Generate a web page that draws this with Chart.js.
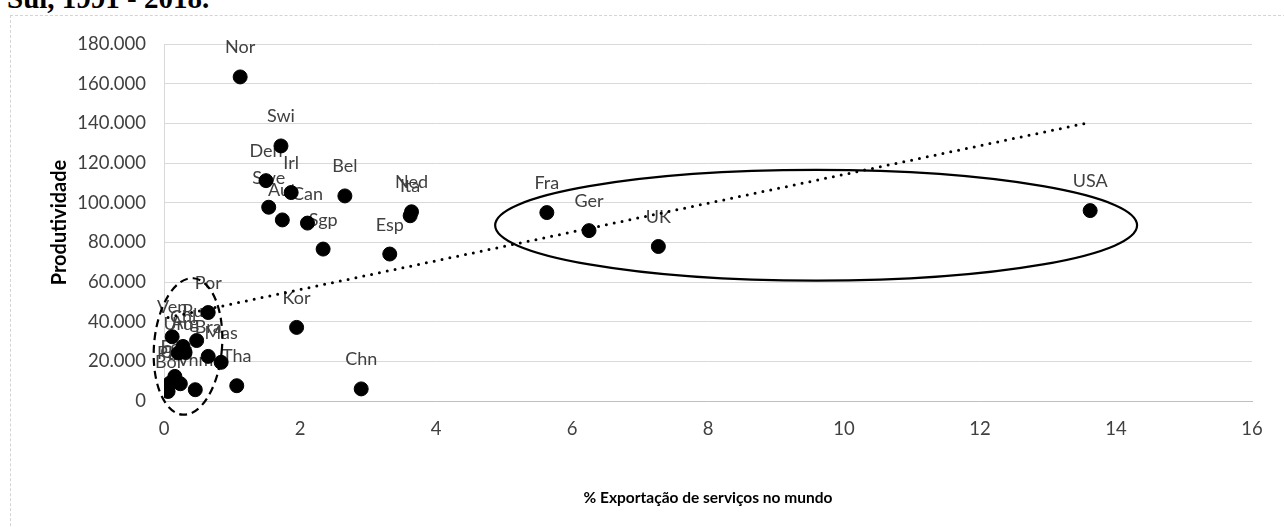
<!DOCTYPE html>
<html>
<head>
<meta charset="utf-8">
<script src="https://cdn.jsdelivr.net/npm/chart.js@4.4.1/dist/chart.umd.min.js"></script>
<style>
html,body{margin:0;padding:0;background:#fff;width:1284px;height:527px;overflow:hidden;}
#frame{position:absolute;left:10px;top:15px;width:1300px;height:540px;border-left:1px dashed #d4d4d4;border-top:1px dashed #d4d4d4;}
#title{position:absolute;left:7px;top:-16px;font:bold 29px 'Liberation Serif',serif;white-space:nowrap;line-height:1;color:#000;}
canvas{position:absolute;left:0;top:0;}
</style>
</head>
<body>
<div id="frame"></div>
<div id="title">Sul, 1991 - 2018.</div>
<canvas id="c" width="1284" height="527"></canvas>
<script>
// ---- data ----
const countries = ['Nor','Swi','Den','Irl','Swe','Aut','Can','Bel','Sgp','Esp','Ned','Ita','Fra','Ger','UK','USA',
  'Kor','Chn','Por','Ven','Rus','Chl','Uru','Arg','Bra','Mas','Ecu','Col','Par','Bol','Ind','Vnm','Tha'];
const exportShare = [1.12,1.72,1.50,1.87,1.54,1.74,2.11,2.66,2.34,3.32,3.64,3.62,5.63,6.25,7.27,13.62,
  1.95,2.90,0.65,0.12,0.48,0.28,0.21,0.31,0.65,0.84,0.16,0.14,0.09,0.06,0.24,0.46,1.07];
const productivity = [163400,128600,111100,105100,97700,91300,89700,103400,76600,74100,95400,93400,95000,85900,77900,96000,
  37100,6100,44600,32400,30500,27500,24200,24500,22500,19500,12400,9900,9100,4800,8700,5700,7700];
// linear trend line end points
const trendX = [0.06, 13.62];
const trendY = [42100, 140500];
// axis ticks
const xTickMin = 0, xTickMax = 16, xTickStep = 2;
const yTickMin = 0, yTickMax = 180000, yTickStep = 20000;
// group outlines (data units)
const groupOutlines = [
  {cx:9.59, cy:88600, rx:4.72, ry:27900, rot:0, dash:[]},
  {cx:0.353, cy:27500, rx:0.5, ry:34500, rot:0.08, dash:[8,5]}
];

const FONT = "Lato, 'Open Sans', sans-serif";

function fmtThousands(v){
  return String(Math.round(v)).replace(/\B(?=(\d{3})+(?!\d))/g,'.');
}

const labelPlugin = {
  id:'pointLabels',
  beforeDatasetsDraw(chart){
    const meta = chart.getDatasetMeta(0);
    const ctx = chart.ctx;
    ctx.save();
    ctx.font = '18px ' + FONT;
    ctx.fillStyle = '#404040';
    ctx.textAlign = 'center';
    ctx.textBaseline = 'alphabetic';
    meta.data.forEach((pt,i)=>{ ctx.fillText(countries[i], pt.x, pt.y - 23.5); });
    ctx.restore();
  }
};

const outlinePlugin = {
  id:'outlines',
  afterDatasetsDraw(chart){
    const xs = chart.scales.x, ys = chart.scales.y, ctx = chart.ctx;
    ctx.save();
    groupOutlines.forEach(o=>{
      const px = xs.getPixelForValue(o.cx), py = ys.getPixelForValue(o.cy);
      const rxp = xs.getPixelForValue(o.cx + o.rx) - px;
      const ryp = py - ys.getPixelForValue(o.cy + o.ry);
      ctx.beginPath();
      ctx.setLineDash(o.dash);
      ctx.lineWidth = 2.2;
      ctx.strokeStyle = '#000';
      ctx.ellipse(px, py, rxp, ryp, o.rot, 0, Math.PI*2);
      ctx.stroke();
    });
    ctx.restore();
  }
};

function build(){
  new Chart(document.getElementById('c'), {
    type:'scatter',
    data:{
      datasets:[
        {
          label:'Países',
          data: exportShare.map((x,i)=>({x:x, y:productivity[i]})),
          pointRadius:7, pointHoverRadius:7,
          backgroundColor:'#000', borderColor:'#000', borderWidth:1
        },
        {
          label:'Tendência',
          type:'line',
          data: trendX.map((x,i)=>({x:x, y:trendY[i]})),
          showLine:true, pointRadius:0, fill:false,
          borderColor:'#000', borderWidth:3,
          borderDash:[0,8], borderCapStyle:'round'
        }
      ]
    },
    options:{
      responsive:false, animation:false, devicePixelRatio:1,
      layout:{padding:{left:0,right:32,top:44,bottom:0}},
      plugins:{legend:{display:false}, tooltip:{enabled:false}},
      scales:{
        x:{
          type:'linear', min:xTickMin, max:xTickMax,
          ticks:{stepSize:xTickStep, color:'#404040', font:{family:FONT,size:18.5}, padding:17, maxRotation:0},
          grid:{display:false, drawTicks:false},
          border:{display:true, color:'#bfbfbf', width:1},
          title:{display:true, text:'% Exportação de serviços no mundo', color:'#000',
                 font:{family:FONT,size:15.5,weight:'bold'}, padding:{top:0,bottom:20}},
          afterFit(s){ s.height = 126; }
        },
        y:{
          type:'linear', min:yTickMin, max:yTickMax,
          ticks:{stepSize:yTickStep, color:'#404040', font:{family:FONT,size:18.5}, padding:18,
                 callback:(v)=>fmtThousands(v)},
          grid:{color:'#d9d9d9', lineWidth:1, drawTicks:false},
          border:{display:true, color:'#d9d9d9', width:1},
          title:{display:true, text:'Produtividade', color:'#000',
                 font:{family:FONT,size:20,weight:'bold'}, padding:{top:48,bottom:0}},
          afterFit(s){ s.width = 164; }
        }
      }
    },
    plugins:[labelPlugin, outlinePlugin]
  });
}
if (document.fonts && document.fonts.load) {
  Promise.all([document.fonts.load('18px Lato'), document.fonts.load('bold 20px Lato')]).then(build, build);
} else build();
</script>
</body>
</html>
